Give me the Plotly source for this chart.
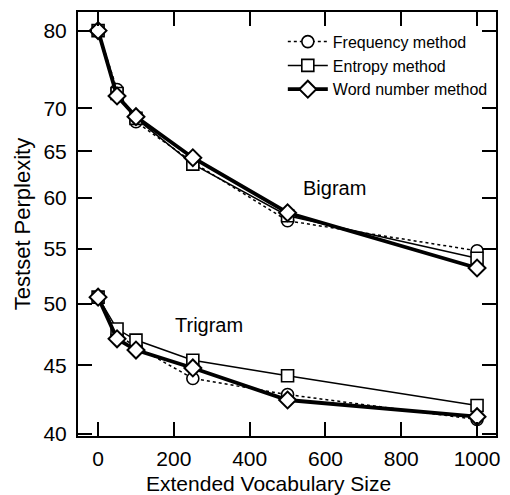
import math
import plotly.graph_objects as go

# Data
vocab_size = [0, 50, 100, 250, 500, 1000]

bigram_frequency = [80.0, 72.3, 68.4, 63.8, 57.7, 54.8]
bigram_entropy = [80.0, 71.8, 68.8, 63.6, 58.2, 54.1]
bigram_wordnum = [80.0, 71.5, 69.0, 64.3, 58.5, 53.2]

trigram_frequency = [50.6, 47.4, 46.5, 44.0, 42.8, 41.0]
trigram_entropy = [50.6, 47.9, 47.0, 45.4, 44.2, 42.0]
trigram_wordnum = [50.6, 47.1, 46.2, 44.8, 42.4, 41.2]

x_ticks = [0, 200, 400, 600, 800, 1000]
y_ticks = [40, 45, 50, 55, 60, 65, 70, 80]

x_title = "Extended Vocabulary Size"
y_title = "Testset Perplexity"

methods = [
    ("Frequency method", bigram_frequency, trigram_frequency,
     dict(color="black", width=1.5, dash="dot"),
     dict(symbol="circle", size=12, color="white", line=dict(color="black", width=1.6))),
    ("Entropy method", bigram_entropy, trigram_entropy,
     dict(color="black", width=1.5),
     dict(symbol="square", size=12, color="white", line=dict(color="black", width=1.6))),
    ("Word number method", bigram_wordnum, trigram_wordnum,
     dict(color="black", width=3.8),
     dict(symbol="diamond", size=13, color="white", line=dict(color="black", width=2))),
]

fig = go.Figure()
for name, big, tri, line, marker in methods:
    fig.add_trace(go.Scatter(x=vocab_size, y=big, mode="lines+markers", name=name,
                             legendgroup=name, line=line, marker=marker))
    fig.add_trace(go.Scatter(x=vocab_size, y=tri, mode="lines+markers", name=name,
                             legendgroup=name, showlegend=False, line=line, marker=marker))

font_family = "Liberation Sans, Arial, Helvetica, sans-serif"

# annotations on a log axis take log10 positions
fig.add_annotation(x=625, y=math.log10(61.0), text="Bigram", showarrow=False,
                   font=dict(size=20, color="black", family=font_family))
fig.add_annotation(x=293, y=math.log10(48.2), text="Trigram", showarrow=False,
                   font=dict(size=20, color="black", family=font_family))
# x-axis title placed as a paper annotation so it stays inside the page
fig.add_annotation(x=0.455, y=-0.113, xref="paper", yref="paper", text=x_title,
                   showarrow=False, xanchor="center", yanchor="middle",
                   font=dict(size=21, color="black", family=font_family))

axis_common = dict(
    showline=True, linecolor="black", linewidth=2, mirror="ticks",
    ticks="inside", ticklen=14, tickwidth=2, tickcolor="black",
    showgrid=False, zeroline=False,
    tickfont=dict(size=21, color="black", family=font_family),
)

fig.update_xaxes(
    range=[-53, 1050], tickvals=x_ticks, ticktext=[str(v) for v in x_ticks],
    ticklabelstandoff=3,
    **axis_common,
)
fig.update_yaxes(
    type="log", range=[1.6005, 1.917], tickvals=y_ticks, ticktext=[str(v) for v in y_ticks],
    title=dict(text=y_title, font=dict(size=22, color="black", family=font_family), standoff=7),
    ticklabelstandoff=5,
    **axis_common,
)

# page body has an 8px default margin, so the figure is 8px smaller than the window
fig.update_layout(
    width=502, height=487,
    margin=dict(l=70, r=14, t=2, b=59),
    paper_bgcolor="white", plot_bgcolor="white",
    font=dict(family=font_family, color="black"),
    showlegend=True,
    legend=dict(x=0.49, y=0.97, xanchor="left", yanchor="top",
                bgcolor="rgba(0,0,0,0)", borderwidth=0,
                font=dict(size=16, color="black", family=font_family),
                itemwidth=40, tracegroupgap=0),
)

fig.write_html("out.html")
